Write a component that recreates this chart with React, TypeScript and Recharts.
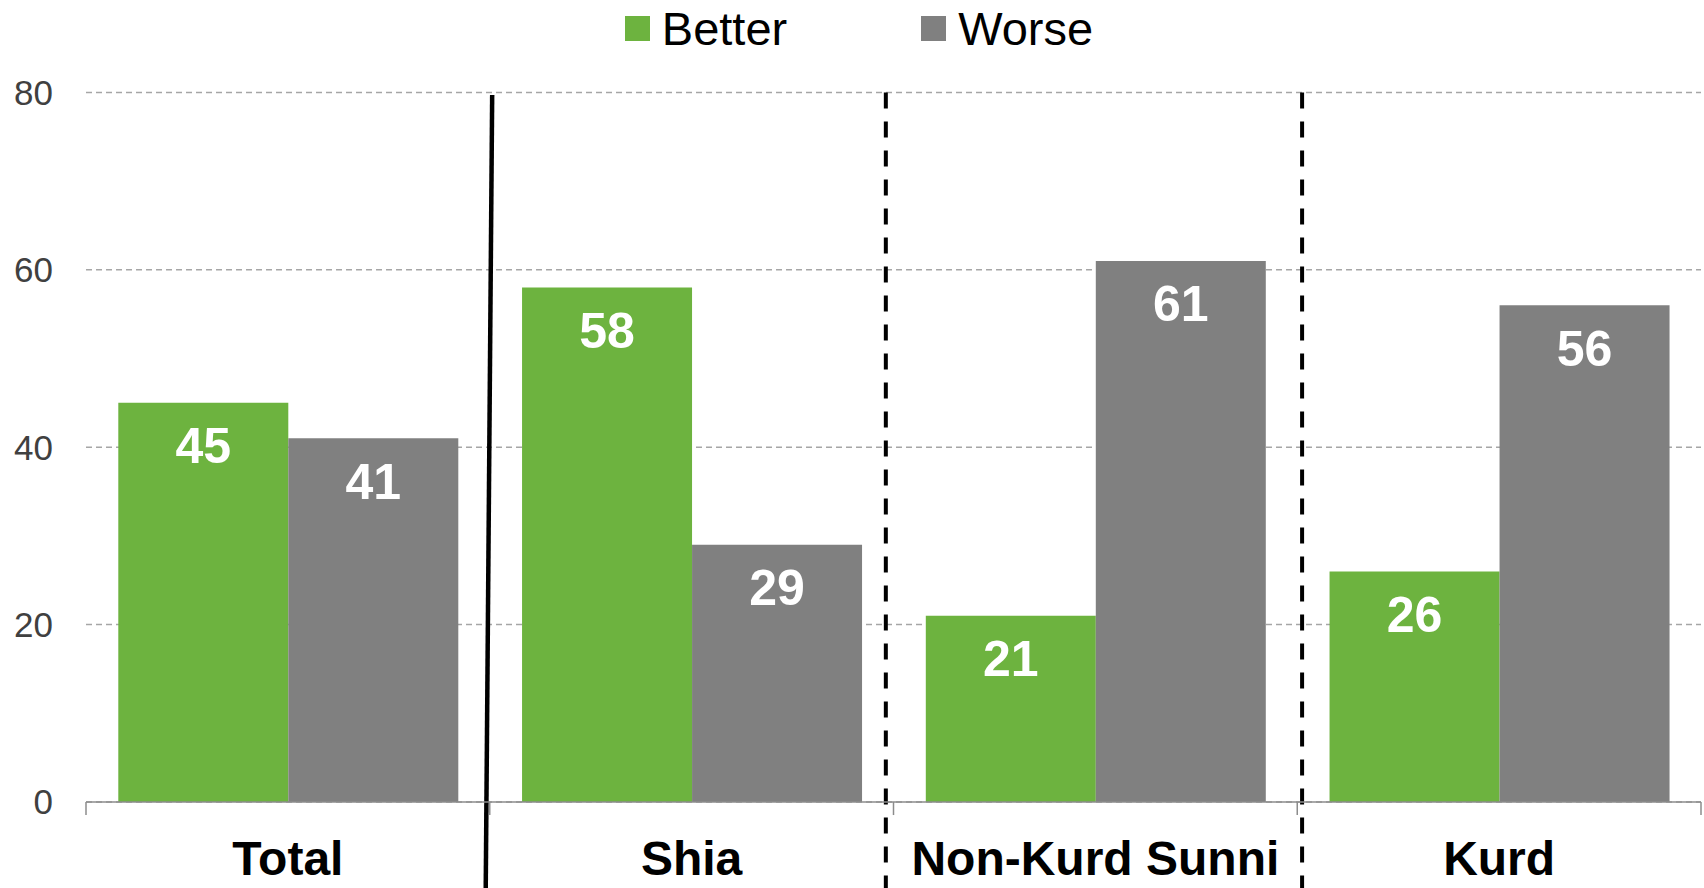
import React from 'react';
import { BarChart, Bar, XAxis, YAxis, CartesianGrid, Legend, LabelList, ReferenceLine } from 'recharts';

const categories = ['Total', 'Shia', 'Non-Kurd Sunni', 'Kurd'];
const betterValues = [45, 58, 21, 26];
const worseValues = [41, 29, 61, 56];
const yTicks = [0, 20, 40, 60, 80];
const seriesNames = ['Better', 'Worse'];
const seriesKeys = ['better', 'worse'];
const seriesColors = ['#6db33f', '#808080'];

const data = categories.map((c, i) => ({ category: c, better: betterValues[i], worse: worseValues[i] }));

const FONT = "Arial, 'Liberation Sans', Helvetica, sans-serif";

const renderLegend = () => (
  <div
    style={{
      display: 'flex',
      justifyContent: 'center',
      alignItems: 'center',
      width: 1704,
      height: 56,
      paddingLeft: 14,
      boxSizing: 'border-box',
      fontFamily: FONT,
      fontSize: 47,
      color: '#000',
    }}
  >
    {seriesNames.map((name, i) => (
      <div key={name} style={{ display: 'flex', alignItems: 'center', marginLeft: i === 0 ? 0 : 134 }}>
        <span style={{ display: 'inline-block', width: 25, height: 25, background: seriesColors[i], marginRight: 12 }} />
        <span>{name}</span>
      </div>
    ))}
  </div>
);

export default function App() {
  const boundaryTicks = [0, 1, 2, 3, 4];
  return (
    <div style={{ position: 'absolute', left: 0, top: 0, width: 1704, height: 888, background: '#fff' }}>
      <BarChart
        width={1704}
        height={888}
        data={data}
        margin={{ top: 92.4, right: 3, bottom: 0, left: 0 }}
        barCategoryGap="8%"
        barGap={0}
      >
        <CartesianGrid vertical={false} stroke="#a6a6a6" strokeDasharray="6 4" strokeWidth={1.5} />
        <XAxis
          dataKey="category"
          height={86}
          tickLine={false}
          tickSize={0}
          tickMargin={39}
          axisLine={{ stroke: '#8c8c8c', strokeWidth: 1.5 }}
          tick={{ fill: '#000', fontSize: 48, fontWeight: 'bold', fontFamily: FONT }}
          interval={0}
        />
        <XAxis
          xAxisId="num"
          type="number"
          dataKey="pos"
          domain={[0, 4]}
          ticks={boundaryTicks}
          allowDataOverflow
          hide
        />
        <YAxis
          domain={[0, 80]}
          ticks={yTicks}
          width={86}
          axisLine={false}
          tickLine={false}
          tickSize={0}
          tickMargin={33}
          tick={{ fill: '#404040', fontSize: 35, fontFamily: FONT }}
          interval={0}
        />
        <Legend
          verticalAlign="top"
          content={renderLegend}
          wrapperStyle={{ position: 'absolute', top: 0, left: 0, width: 1704, height: 0, overflow: 'visible' }}
        />
        {seriesKeys.map((k, i) => (
          <Bar key={k} dataKey={k} name={seriesNames[i]} fill={seriesColors[i]} isAnimationActive={false}>
            <LabelList
              dataKey={k}
              position="insideTop"
              offset={25}
              fill="#fff"
              fontSize={50}
              fontWeight="bold"
              fontFamily={FONT}
            />
          </Bar>
        ))}
        {boundaryTicks.map((t) => (
          <ReferenceLine
            key={'t' + t}
            xAxisId="num"
            segment={[{ x: t, y: 0 }, { x: t, y: -1.47 }]}
            stroke="#8c8c8c"
            strokeWidth={1.5}
            ifOverflow="visible"
          />
        ))}
        <ReferenceLine
          xAxisId="num"
          segment={[{ x: 1.006, y: 79.7 }, { x: 0.99, y: -10 }]}
          stroke="#000"
          strokeWidth={4.5}
          ifOverflow="visible"
        />
        <ReferenceLine
          xAxisId="num"
          segment={[{ x: 1.981, y: 80 }, { x: 1.981, y: -10 }]}
          stroke="#000"
          strokeWidth={4}
          strokeDasharray="16 13"
          ifOverflow="visible"
        />
        <ReferenceLine
          xAxisId="num"
          segment={[{ x: 3.012, y: 80 }, { x: 3.012, y: -10 }]}
          stroke="#000"
          strokeWidth={4}
          strokeDasharray="16 13"
          ifOverflow="visible"
        />
      </BarChart>
    </div>
  );
}
